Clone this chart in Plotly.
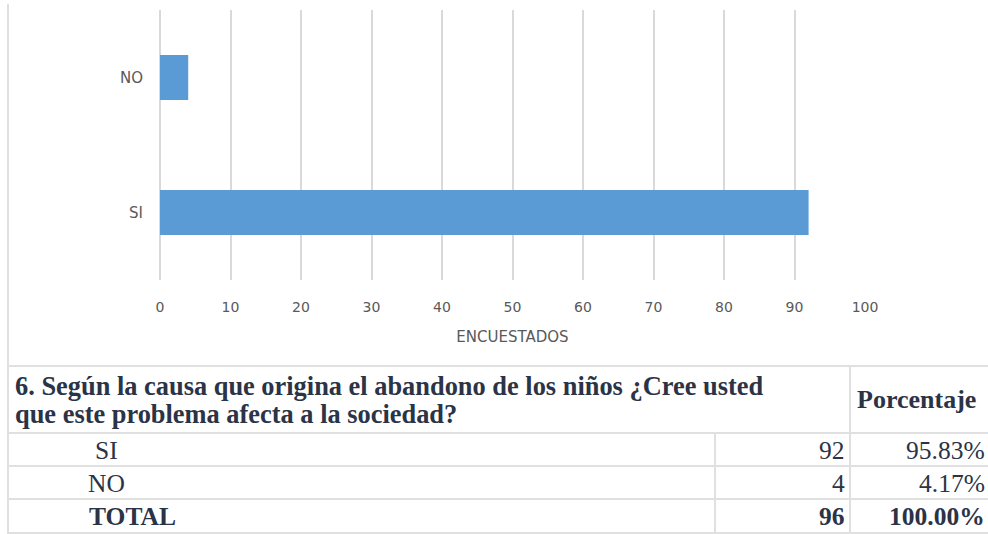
import plotly.graph_objects as go

# ---------------- data ----------------
categories = ["SI", "NO"]
encuestados = [92, 4]

question_lines = [
    "6. Según la causa que origina el abandono de los niños ¿Cree usted",
    "que este problema afecta a la sociedad?",
]
pct_header = "Porcentaje"
row_labels = ["SI", "NO", "TOTAL"]
row_counts = [92, 4, 96]
row_pcts = ["95.83%", "4.17%", "100.00%"]
x_ticks = [0, 10, 20, 30, 40, 50, 60, 70, 80, 90, 100]
axis_title = "ENCUESTADOS"

# ---------------- layout helpers ----------------
W, H = 988, 534


def px(x):
    return x / W


def py(y):
    return 1 - y / H


BAR_COLOR = "#5B9BD5"
GRID = "#D9D9D9"
AXIS_TXT = "#595959"
TBL_TXT = "#2B3447"
TBL_LINE = "#E0E0E0"
SERIF = "Liberation Serif, Times New Roman, serif"
SANS = "DejaVu Sans, sans-serif"

fig = go.Figure()
fig.add_trace(
    go.Bar(
        x=encuestados,
        y=categories,
        orientation="h",
        marker=dict(color=BAR_COLOR, line=dict(width=0)),
        showlegend=False,
        hoverinfo="x+y",
    )
)

fig.update_layout(
    width=W,
    height=H,
    autosize=False,
    margin=dict(l=0, r=0, t=0, b=0, autoexpand=False),
    paper_bgcolor="white",
    plot_bgcolor="white",
    bargap=0.667,
    xaxis=dict(
        domain=[px(160), px(865)],
        range=[0, 100],
        tickvals=x_ticks,
        showgrid=True,
        gridcolor=GRID,
        gridwidth=1.5,
        zeroline=True,
        zerolinecolor=GRID,
        zerolinewidth=1.5,
        showline=False,
        ticks="",
        automargin=False,
        ticklabelstandoff=17,
        tickfont=dict(family=SANS, size=14, color=AXIS_TXT),
        title=dict(text=axis_title, standoff=17,
                   font=dict(family=SANS, size=15, color=AXIS_TXT)),
        fixedrange=True,
    ),
    yaxis=dict(
        domain=[py(280), py(10)],
        categoryorder="array",
        categoryarray=categories,
        showgrid=False,
        zeroline=False,
        showline=False,
        ticks="",
        automargin=False,
        ticklabelstandoff=16,
        tickfont=dict(family=SANS, size=15, color=AXIS_TXT),
        fixedrange=True,
    ),
)

# ---------------- table lines ----------------
shapes = []


def hline(y, x0, x1):
    shapes.append(dict(type="line", xref="paper", yref="paper",
                       x0=px(x0), x1=px(x1), y0=py(y), y1=py(y),
                       line=dict(color=TBL_LINE, width=2)))


def vline(x, y0, y1):
    shapes.append(dict(type="line", xref="paper", yref="paper",
                       x0=px(x), x1=px(x), y0=py(y0), y1=py(y1),
                       line=dict(color=TBL_LINE, width=2)))


# outer left border of the whole block
vline(8, 4, 534)
# table horizontal rules
for yy in [366, 433, 466, 499, 533]:
    hline(yy, 8, 988)
# column separators
vline(715, 433, 533)
vline(850, 366, 533)

annotations = []


def text(x, y, s, xanchor="left", bold=False, size=25.5):
    annotations.append(dict(
        xref="paper", yref="paper", x=px(x), y=py(y),
        text=f"<b>{s}</b>" if bold else s,
        showarrow=False, xanchor=xanchor, yanchor="middle",
        font=dict(family=SERIF, size=size, color=TBL_TXT),
    ))


# header
header_y = [386, 414]
for line, yy in zip(question_lines, header_y):
    text(13, yy, line, bold=True, size=26.4)
text(855, 399, pct_header, bold=True, size=26)

# body rows
row_y = [450, 483, 516]
label_x = [93, 86, 87]
for i, (lab, cnt, pct) in enumerate(zip(row_labels, row_counts, row_pcts)):
    bold = lab == "TOTAL"
    text(label_x[i], row_y[i], lab, bold=bold)
    text(847, row_y[i], str(cnt), xanchor="right", bold=bold)
    text(987, row_y[i], pct, xanchor="right", bold=bold)

fig.update_layout(shapes=shapes, annotations=annotations)

post = """
var s = document.createElement('style');
s.innerHTML = 'html,body{margin:0;padding:0;overflow:hidden;}' +
  '.plotly-graph-div{position:absolute;left:0;top:0;}';
document.head.appendChild(s);
var gd = document.getElementById('{plot_id}');
Plotly.relayout(gd, {width: 988, height: 534});
"""

fig.write_html(
    "out.html",
    config={"displayModeBar": False, "responsive": False},
    default_width="988px",
    default_height="534px",
    post_script=post,
)
